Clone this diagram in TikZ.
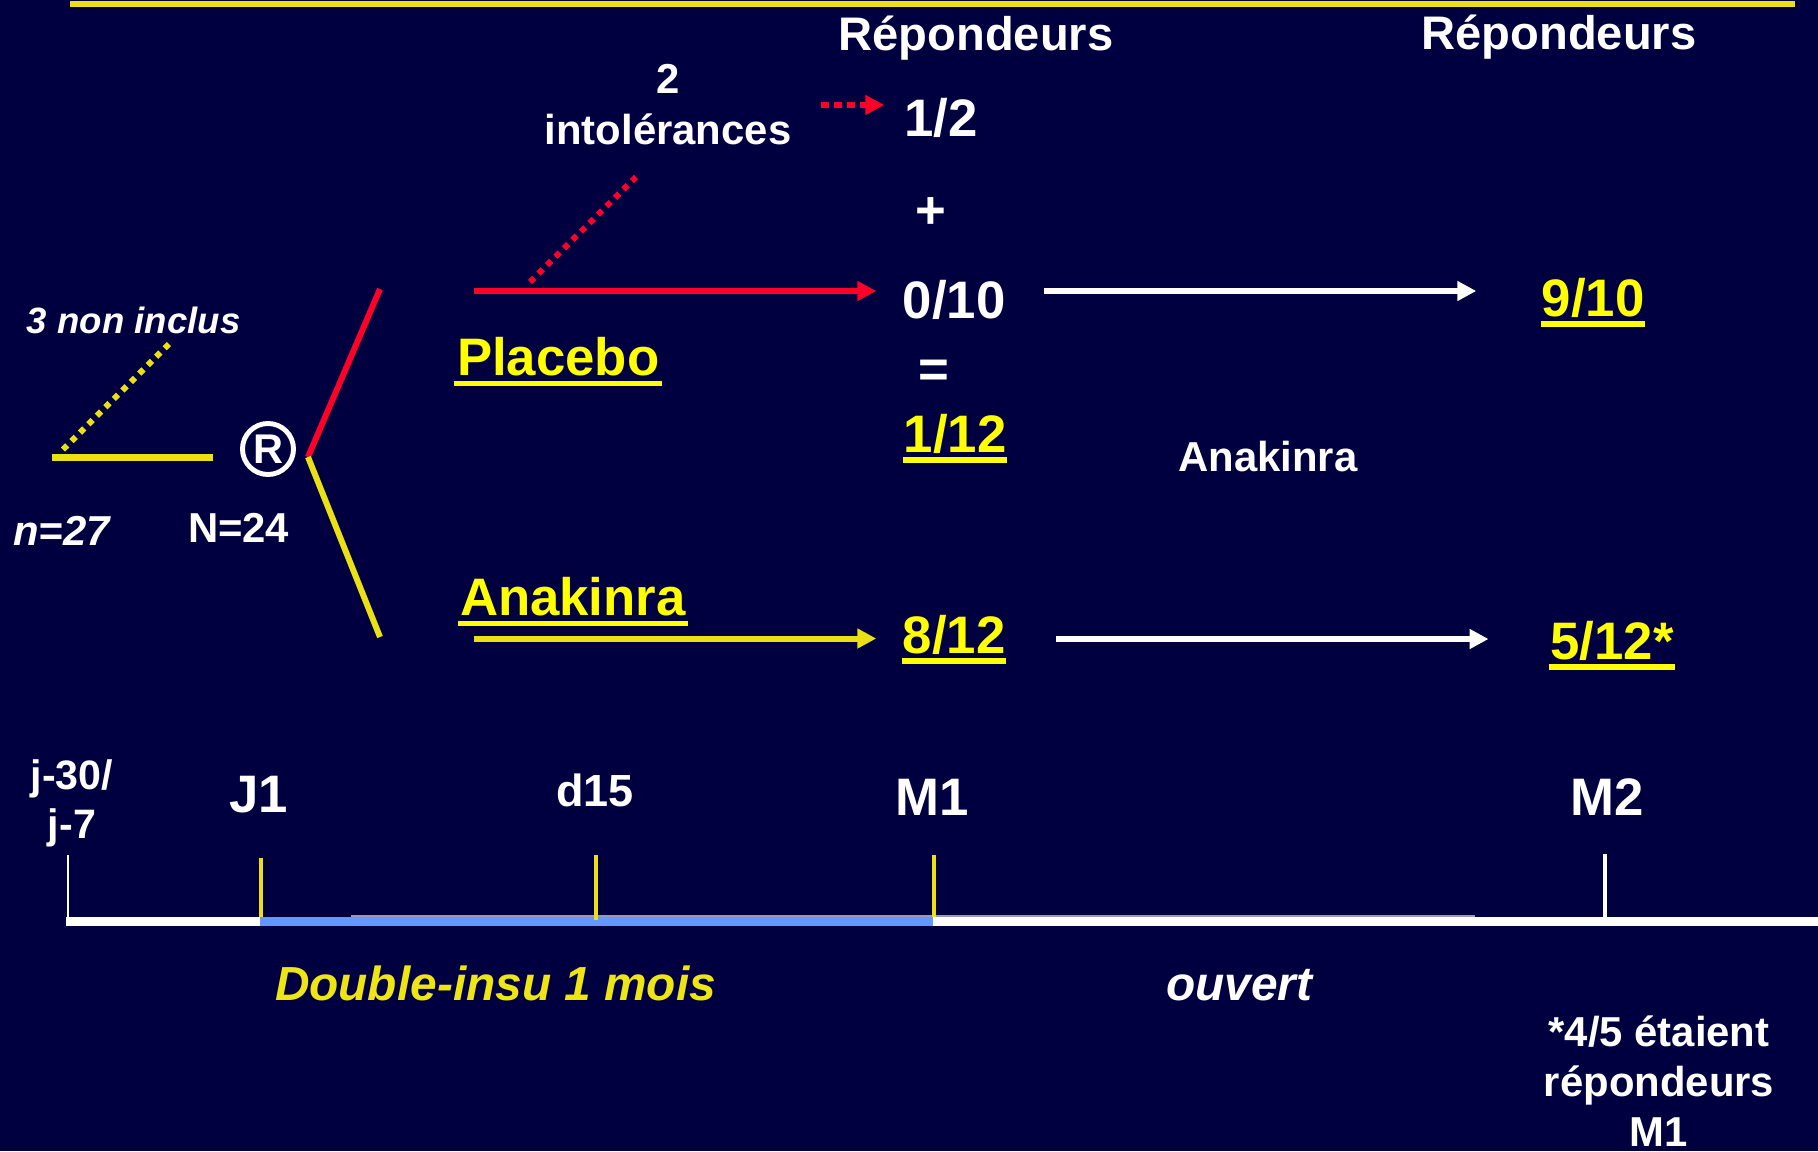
\documentclass[tikz,border=0pt]{standalone}
\usepackage{fontspec}
\setmainfont{Liberation Sans}
\usetikzlibrary{arrows.meta,calc}

\definecolor{bg}{RGB}{0,0,64}
\definecolor{ytext}{RGB}{255,255,0}
\definecolor{yline}{RGB}{234,224,20}
\definecolor{ydim}{RGB}{238,230,20}
\definecolor{rline}{RGB}{255,0,40}
\definecolor{bbar}{RGB}{102,150,255}

\begin{document}
\begin{tikzpicture}[x=0.01cm, y=-0.01cm,
  every node/.style={inner sep=0pt, outer sep=0pt, text=white},
  fbig/.style={font=\fontsize{15}{18}\selectfont\bfseries},
  fhead/.style={font=\fontsize{13.4}{16}\selectfont\bfseries},
  fmid/.style={font=\fontsize{11.9}{14.2}\selectfont\bfseries},
  fital/.style={font=\fontsize{13.6}{16}\selectfont\bfseries\itshape},
  fsmall/.style={font=\fontsize{10.4}{12.5}\selectfont\bfseries\itshape},
  hl/.style={text=ytext},
  ulline/.style={draw=ytext, line width=1.6pt},
  tip/.style={-{Triangle[length=5.4pt,width=5.4pt]}},
  thick line/.style={line width=1.7pt},
  dotline/.style={line width=1.7pt, dash pattern=on 1.7pt off 1.7pt},
  redarrow/.style={rline, thick line, tip},
  yelarrow/.style={yline, thick line, tip},
  whitearrow/.style={white, thick line, tip},
  tick/.style={line width=1.1pt}
]
% canvas
\fill[bg] (0,0) rectangle (1818,1151);
\useasboundingbox (0,0) rectangle (1818,1151);

% rule along the top
\draw[yline, thick line] (70,4) -- (1795,4);

% column headings
\node[fhead, anchor=base] (rep1) at (976,50) {Répondeurs};
\node[fhead, anchor=base] (rep2) at (1559,49) {Répondeurs};

% randomisation
\coordinate (pool) at (52,457.5);
\coordinate (poolend) at (213,457.5);
\coordinate (excl) at (171,342);
\node[fsmall, anchor=base west] (noninc) at (27,333) {3 non inclus};
\draw[yline, line width=2pt] (pool) -- (poolend);
\draw[yline, dotline] ($(pool)+(11,-8)$) -- (excl);
\node[circle, draw=white, line width=1.4pt, minimum size=0.51cm,
      font=\fontsize{11.8}{13}\selectfont\bfseries] (rand) at (268,449) {R};
\node[font=\fontsize{11.9}{14}\selectfont\bfseries\itshape, anchor=base west] (n27) at (13,545) {n=27};
\node[fmid, anchor=base west] (N24) at (188,542) {N=24};

\coordinate (split) at (308,457);
\coordinate (ptop) at (380,289);
\coordinate (abot) at (380,637);
\draw[rline, thick line] (split) -- (ptop);
\draw[yline, thick line] (split) -- (abot);

% arm labels
\node[fbig, hl, anchor=base west] (placebo) at (457,375) {Placebo};
\node[fbig, hl, anchor=base west] (anak) at (460,615) {Anakinra};
\draw[ulline] ($(placebo.base west)+(-3,8.5)$) -- ($(placebo.base east)+(3,8.5)$);
\draw[ulline] ($(anak.base west)+(-2,8.5)$) -- ($(anak.base east)+(2,8.5)$);

% results at M1
\node[fbig, anchor=base] (f12) at (941,136) {1/2};
\node[fbig, anchor=base] (plus) at (931,228) {+};
\node[fbig, anchor=base] (f010) at (954,318) {0/10};
\node[fbig, anchor=base] (eq) at (934,387) {=};
\node[fbig, hl, anchor=base] (f112) at (955,452) {1/12};
\node[fbig, hl, anchor=base] (f812) at (954,653) {8/12};
\draw[ulline] ($(f112.base west)+(-1,8)$) -- ($(f112.base east)+(1,8)$);
\draw[ulline] ($(f812.base west)+(-1,8)$) -- ($(f812.base east)+(1,8)$);

% results at M2
\node[fbig, hl, anchor=base] (f910) at (1593,316) {9/10};
\node[fbig, hl, anchor=base] (f512) at (1612,659) {5/12*};
\draw[ulline] ($(f910.base west)+(-1,8)$) -- ($(f910.base east)+(1,8)$);
\draw[ulline] ($(f512.base west)+(-1,8)$) -- ($(f512.base east)+(1,8)$);
\node[fmid, anchor=base] (anakw) at (1268,471) {Anakinra};

% withdrawals in the placebo arm
\node[align=center, anchor=base, font=\fontsize{11.9}{14.5}\selectfont\bfseries] (intol) at (668,144) {2\\intolérances};
\coordinate (pstart) at (474,291);
\coordinate (wstart) at (530,282);
\coordinate (wend) at (636,177);
\coordinate (dstart) at (821,105);
\coordinate (astart) at (474,638.5);
\coordinate (prow) at (0,291);
\coordinate (arow) at (0,639);

\draw[redarrow, shorten >=7.5pt] (pstart) -- (pstart -| f010.west);
\draw[rline, dotline] (wstart) -- (wend);
\draw[redarrow, dash pattern=on 2.2pt off 1.5pt, shorten >=5.7pt] (dstart) -- (dstart -| f12.west);
\draw[yelarrow, shorten >=7.5pt] (astart) -- (astart -| f812.west);

% open-label extension
\draw[whitearrow, shorten <=11pt, shorten >=18.6pt] (f010.east |- prow) -- (prow -| f910.west);
\draw[whitearrow, shorten <=14.4pt, shorten >=17.6pt] (f812.east |- arow) -- (arow -| f512.west);

% time axis
\fill[white] (66,917) rectangle (1818,926);
\fill[bbar] (260,917) rectangle (933,926);
\draw[white, opacity=0.6, line width=0.6pt] (351,916) -- (1475,916);
\draw[white, line width=0.6pt] (68,855) -- (68,917);
\draw[yline, tick] (261,858) -- (261,917);
\draw[yline, tick] (596,855) -- (596,920);
\draw[yline, tick] (934,855) -- (934,917);
\draw[white, line width=1.4pt] (1605,854) -- (1605,917);

\node[align=center, anchor=base, font=\fontsize{11.7}{13.8}\selectfont\bfseries] (jm) at (72,838) {j-30/\\j-7};
\node[fbig, anchor=base] (J1) at (259,812) {J1};
\node[anchor=base, font=\fontsize{12.8}{15}\selectfont\bfseries] (d15) at (595,806) {d15};
\node[fbig, anchor=base] (M1) at (932,815) {M1};
\node[fbig, anchor=base] (M2) at (1607,815) {M2};

\node[fital, text=ydim, anchor=base west] (dbl) at (275,1000) {Double-insu 1 mois};
\node[fital, anchor=base west] (ouvert) at (1166,1000) {ouvert};

\node[align=center, anchor=base, font=\fontsize{11.9}{14.2}\selectfont\bfseries] (foot) at (1659,1146) {*4/5 étaient\\répondeurs\\M1};
\end{tikzpicture}
\end{document}
